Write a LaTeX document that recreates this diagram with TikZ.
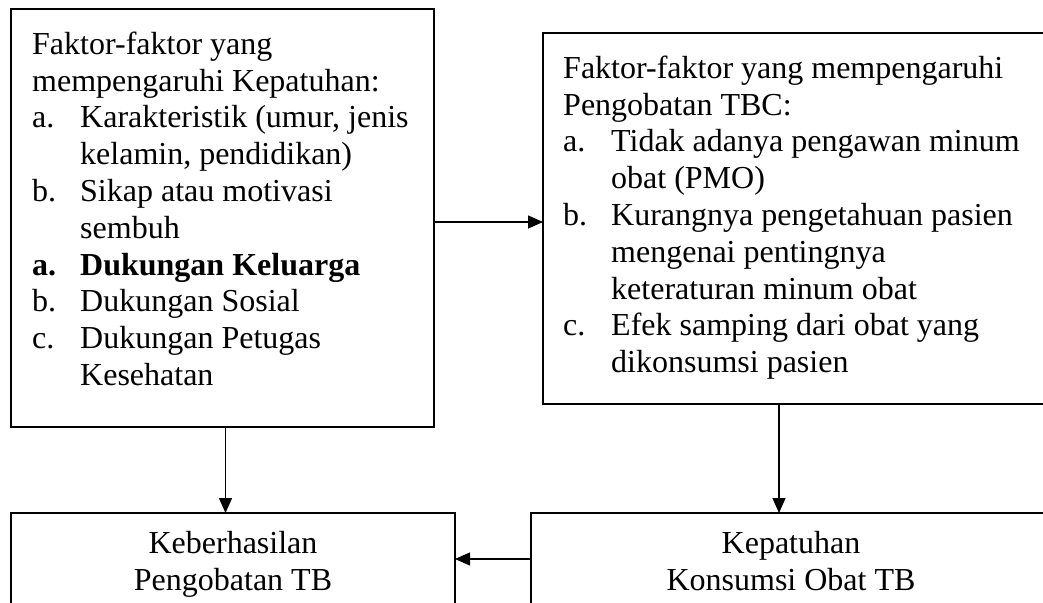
\documentclass[tikz,border=0pt]{standalone}
\usepackage{fontspec}
\setmainfont{Liberation Serif}
\usetikzlibrary{arrows.meta}
\newcommand\lbl[1]{\makebox[48pt][l]{#1}}
\newcommand\ind{\hspace*{48pt}}
\begin{document}
\begin{tikzpicture}[x=1pt,y=-1pt,
  box/.style={draw, line width=1.1pt, inner sep=0pt, outer sep=0pt, anchor=north west},
  boxthick/.style={box, line width=1.5pt},
  txt/.style={inner sep=0pt, anchor=north west, font=\fontsize{32}{36.8}\selectfont},
  ctxt/.style={inner sep=0pt, anchor=north, font=\fontsize{32}{36.8}\selectfont},
  arr/.style={line width=1.3pt, -{Triangle[length=15pt,width=13pt]}}]
\useasboundingbox (0,0) rectangle (1043,602);
\clip (0,0) rectangle (1043,602);
% boxes
\node[box, minimum width=423pt, minimum height=418pt] (b1) at (11,9) {};
\node[boxthick, minimum width=510pt, minimum height=371pt] (b2) at (543,33) {};
\node[box, minimum width=444pt, minimum height=110pt] (b3) at (11,513) {};
\node[boxthick, minimum width=520pt, minimum height=110pt] (b4) at (531,513) {};
% texts
\node[txt] (t1) at (32,28.24) {\begin{tabular}{@{}l@{}}
Faktor-faktor yang\\
mempengaruhi Kepatuhan:\\
\lbl{a.}Karakteristik (umur, jenis\\
\ind kelamin, pendidikan)\\
\lbl{b.}Sikap atau motivasi\\
\ind sembuh\\
\lbl{\textbf{a.}}\textbf{Dukungan Keluarga}\\
\lbl{b.}Dukungan Sosial\\
\lbl{c.}Dukungan Petugas\\
\ind Kesehatan
\end{tabular}};
\node[txt] (t2) at (563,52.24) {\begin{tabular}{@{}l@{}}
Faktor-faktor yang mempengaruhi\\
Pengobatan TBC:\\
\lbl{a.}Tidak adanya pengawan minum\\
\ind obat (PMO)\\
\lbl{b.}Kurangnya pengetahuan pasien\\
\ind mengenai pentingnya\\
\ind keteraturan minum obat\\
\lbl{c.}Efek samping dari obat yang\\
\ind dikonsumsi pasien
\end{tabular}};
\node[ctxt] (t3) at (233,527.24) {\begin{tabular}{@{}c@{}}Keberhasilan\\Pengobatan TB\end{tabular}};
\node[ctxt] (t4) at (791,527.24) {\begin{tabular}{@{}c@{}}Kepatuhan\\Konsumsi Obat TB\end{tabular}};
% connectors
\draw[arr] ([yshift=-4pt]b1.east) -- ([yshift=-4pt]b1.east -| b2.west);
\draw[arr] ([xshift=3pt]b1.south) -- ([xshift=3pt]b1.south |- b3.north);
\draw[arr] ([xshift=-19pt]b2.south) -- ([xshift=-19pt]b2.south |- b4.north);
\draw[arr] ([yshift=9pt]b4.west) -- ([yshift=9pt]b4.west -| b3.east);
\end{tikzpicture}
\end{document}
